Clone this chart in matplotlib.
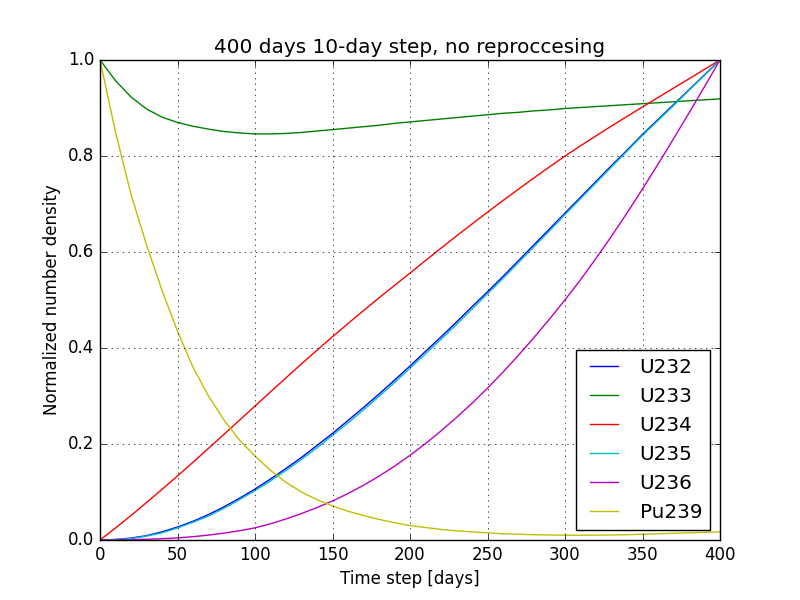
import matplotlib
matplotlib.use('Agg')
import matplotlib.pyplot as plt

plt.style.use('classic')

# time steps (days)
days = [0, 10, 20, 30, 40, 50, 60, 70, 80, 90, 100, 110, 120, 130, 140, 150, 160, 170, 180, 190, 200,
        210, 220, 230, 240, 250, 260, 270, 280, 290, 300, 310, 320, 330, 340, 350, 360, 370, 380, 390, 400]

u232 = [0.0, 0.001, 0.004, 0.009, 0.017, 0.027, 0.039, 0.053, 0.069, 0.087, 0.106, 0.127, 0.149, 0.172,
        0.197, 0.222, 0.249, 0.276, 0.304, 0.333, 0.3625, 0.393, 0.423, 0.454, 0.486, 0.517, 0.549, 0.582,
        0.615, 0.648, 0.681, 0.714, 0.747, 0.780, 0.812, 0.845, 0.876, 0.907, 0.938, 0.969, 1.0]
u233 = [1.0, 0.957, 0.923, 0.898, 0.881, 0.870, 0.862, 0.856, 0.851, 0.848, 0.846, 0.846, 0.847, 0.849,
        0.852, 0.855, 0.858, 0.861, 0.864, 0.868, 0.871, 0.874, 0.877, 0.880, 0.883, 0.886, 0.889, 0.891,
        0.894, 0.896, 0.899, 0.901, 0.903, 0.905, 0.907, 0.909, 0.911, 0.913, 0.915, 0.917, 0.919]
u234 = [0.0, 0.025, 0.051, 0.078, 0.1055, 0.1335, 0.162, 0.191, 0.2202, 0.2496, 0.2791, 0.3086, 0.3379,
        0.3669, 0.3954, 0.4234, 0.4509, 0.4779, 0.5044, 0.5304, 0.556, 0.5822, 0.608, 0.6334, 0.6584,
        0.683, 0.7072, 0.731, 0.7544, 0.7774, 0.800, 0.8212, 0.842, 0.8624, 0.8824, 0.9021, 0.9218,
        0.9414, 0.9609, 0.9805, 1.0]
u235 = [0.0, 0.001, 0.003, 0.008, 0.015, 0.025, 0.037, 0.050, 0.066, 0.084, 0.103, 0.123, 0.145, 0.168,
        0.192, 0.218, 0.244, 0.271, 0.299, 0.328, 0.358, 0.388, 0.418, 0.449, 0.481, 0.513, 0.545, 0.578,
        0.611, 0.644, 0.678, 0.711, 0.744, 0.777, 0.810, 0.843, 0.874, 0.905, 0.937, 0.968, 1.0]
u236 = [0.0, 0.0002, 0.0007, 0.0015, 0.0027, 0.0044, 0.0069, 0.0102, 0.0143, 0.0193, 0.0253, 0.0338,
        0.0438, 0.0551, 0.0676, 0.0813, 0.0968, 0.1140, 0.1330, 0.1537, 0.1763, 0.2008, 0.2272, 0.2552,
        0.2848, 0.3163, 0.3498, 0.3850, 0.4218, 0.4602, 0.5003, 0.5421, 0.5867, 0.6329, 0.6812, 0.7313,
        0.7829, 0.8358, 0.8897, 0.9445, 1.0]
pu239 = [1.0, 0.85, 0.72, 0.615, 0.52, 0.435, 0.36, 0.30, 0.25, 0.208, 0.175, 0.145, 0.12, 0.10,
         0.084, 0.071, 0.060, 0.051, 0.043, 0.036, 0.030, 0.026, 0.022, 0.019, 0.017, 0.015, 0.013, 0.012,
         0.011, 0.0105, 0.010, 0.010, 0.010, 0.0105, 0.011, 0.012, 0.013, 0.014, 0.015, 0.016, 0.017]

fig = plt.figure(figsize=(8, 6))
ax = fig.add_subplot(111)

ax.plot(days, u232, 'b', label='U232')
ax.plot(days, u233, 'g', label='U233')
ax.plot(days, u234, 'r', label='U234')
ax.plot(days, u235, 'c', label='U235')
ax.plot(days, u236, 'm', label='U236')
ax.plot(days, pu239, 'y', label='Pu239')

ax.set_xlim(0, 400)
ax.set_ylim(0, 1.0)
ax.set_xlabel('Time step [days]')
ax.set_ylabel('Normalized number density')
ax.set_title('400 days 10-day step, no reproccesing')
ax.grid(True)
ax.legend(loc='lower right')

fig.savefig('out.png', dpi=100)
